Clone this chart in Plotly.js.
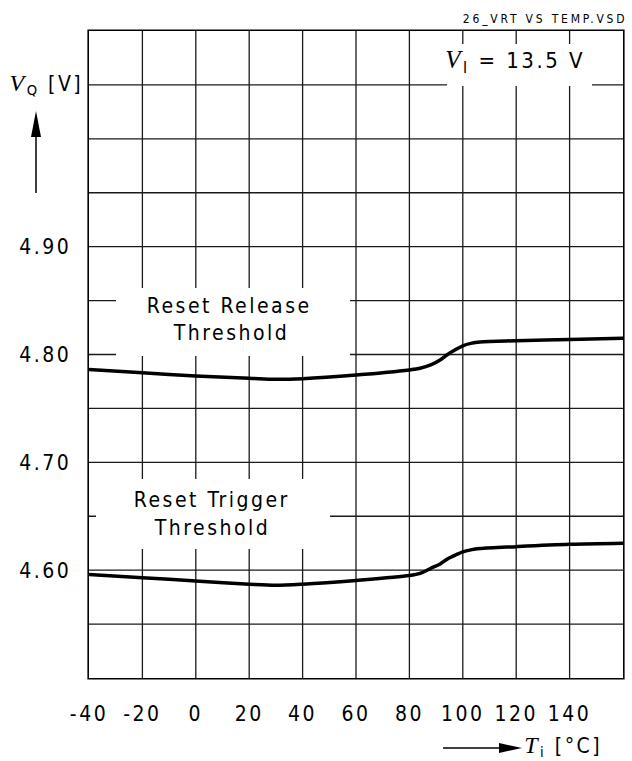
<!DOCTYPE html>
<html>
<head>
<meta charset="utf-8">
<script src="https://cdn.plot.ly/plotly-3.0.1.min.js"></script>
<style>
  html, body { margin: 0; padding: 0; background: #fff; }
  #chart { width: 632px; height: 761px; }
  #chart .crisp { shape-rendering: auto; }
  #chart .xtick text, #chart .ytick text { letter-spacing: 2.5px; }
  #chart .annotation-text { letter-spacing: 2.5px; }
  #chart .annotation[data-index="5"] .annotation-text { letter-spacing: 2.8px; }
</style>
</head>
<body>
<div id="chart"></div>
<script>
// ---- data ----
const tempRelease = [-40, -20, 0, 20, 30, 40, 60, 80, 84, 88, 91.5, 94, 97.5, 100, 103, 106.5, 120, 140, 160];
const vRelease    = [4.786, 4.783, 4.780, 4.778, 4.777, 4.7776, 4.781, 4.7857, 4.7872, 4.7903, 4.7949, 4.7995, 4.8048, 4.8081, 4.8103, 4.8116, 4.8128, 4.814, 4.815];
const tempTrigger = [-40, -20, 0, 20, 30, 40, 60, 80, 84, 88, 91.5, 94, 97.5, 100, 103, 106.5, 120, 140, 160];
const vTrigger    = [4.596, 4.593, 4.590, 4.587, 4.586, 4.587, 4.5905, 4.595, 4.597, 4.6017, 4.6058, 4.610, 4.6143, 4.617, 4.6188, 4.620, 4.6218, 4.624, 4.625];

const xTickVals = [-40, -20, 0, 20, 40, 60, 80, 100, 120, 140];
const xTickText = ['-40', '-20', '0', '20', '40', '60', '80', '100', '120', '140'];
const yTickVals = [4.60, 4.70, 4.80, 4.90];
const yTickText = ['4.60', '4.70', '4.80', '4.90'];
const yMinorGrid = [4.55, 4.65, 4.75, 4.85, 4.95, 5.00, 5.05];

const labelRelease = ['Reset Release', 'Threshold'];
const labelTrigger = ['Reset Trigger', 'Threshold'];
const fileName = '26_VRT VS TEMP.VSD';

// ---- layout geometry (pixels) ----
const W = 632, H = 761, L = 89, R = 623, T = 31, B = 678;
const px = x => (x - L) / (R - L);
const py = y => (B - y) / (B - T);

const SANS = 'DejaVu Sans Condensed, Liberation Sans Narrow, Arial Narrow, Liberation Sans, sans-serif';
const SERIF = 'Liberation Serif, Times New Roman, serif';

const lineStyle = { color: '#000', width: 3.5, shape: 'spline', smoothing: 0.9 };

const traces = [
  { x: tempRelease, y: vRelease, type: 'scatter', mode: 'lines', line: lineStyle, hoverinfo: 'skip' },
  { x: tempTrigger, y: vTrigger, type: 'scatter', mode: 'lines', line: lineStyle, hoverinfo: 'skip' }
];

function whiteBox(x0, y0, x1, y1) {
  return { type: 'rect', xref: 'paper', yref: 'paper', x0: px(x0), x1: px(x1), y0: py(y1), y1: py(y0),
           fillcolor: '#fff', line: { width: 0 }, layer: 'above' };
}
function txt(text, cx, cy, size, extra) {
  return Object.assign({ text: text, xref: 'paper', yref: 'paper', x: px(cx), y: py(cy),
    xanchor: 'center', yanchor: 'middle', showarrow: false,
    font: { family: SANS, size: size, color: '#000' } }, extra || {});
}

const shapes = [
  whiteBox(447, 44, 592, 86),
  whiteBox(116, 288, 350, 356),
  whiteBox(96, 479, 330, 549),
  // y-axis arrow
  { type: 'line', xref: 'paper', yref: 'paper', x0: px(36), x1: px(36), y0: py(193), y1: py(134), line: { color: '#000', width: 1.5 } },
  { type: 'path', xref: 'paper', yref: 'paper', path: `M ${px(36)} ${py(111)} L ${px(31)} ${py(137)} L ${px(41)} ${py(137)} Z`, fillcolor: '#000', line: { width: 0 } },
  // x-axis arrow
  { type: 'line', xref: 'paper', yref: 'paper', x0: px(443), x1: px(502), y0: py(748), y1: py(748), line: { color: '#000', width: 1.5 } },
  { type: 'path', xref: 'paper', yref: 'paper', path: `M ${px(522)} ${py(748)} L ${px(499)} ${py(743)} L ${px(499)} ${py(753)} Z`, fillcolor: '#000', line: { width: 0 } }
];

const annotations = [
  txt(labelRelease[0], 229, 306, 21),
  txt(labelRelease[1], 231, 333, 21),
  txt(labelTrigger[0], 212, 500, 21),
  txt(labelTrigger[1], 212, 528, 21),
  txt(`<span style="font-family:${SERIF};font-style:italic;font-size:25px">V</span><sub>I</sub> = 13.5 V`, 515, 62, 22),
  txt(fileName, 545, 19, 12),
  txt(`<span style="font-family:${SERIF};font-style:italic;font-size:24px">V</span><sub>Q</sub> [V]`, 46, 84, 21),
  txt(`<span style="font-family:${SERIF};font-style:italic;font-size:24px">T</span><sub>i</sub> [°C]`, 563, 746, 21)
];

const gridCol = '#1a1a1a';
const layout = {
  width: W, height: H,
  margin: { l: L, r: W - R, t: T, b: H - B, pad: 0 },
  paper_bgcolor: '#fff', plot_bgcolor: '#fff',
  showlegend: false,
  xaxis: {
    range: [-40, 160], tickmode: 'array', tickvals: xTickVals, ticktext: xTickText,
    showgrid: true, gridcolor: gridCol, gridwidth: 1.3, zeroline: false,
    showline: true, linecolor: '#000', linewidth: 1.6, mirror: true,
    ticks: '', ticklabelstandoff: 16,
    tickfont: { family: SANS, size: 21, color: '#000' }, fixedrange: true
  },
  yaxis: {
    range: [4.50, 5.10], tickmode: 'array', tickvals: yTickVals, ticktext: yTickText,
    showgrid: true, gridcolor: gridCol, gridwidth: 1.3, zeroline: false,
    showline: true, linecolor: '#000', linewidth: 1.6, mirror: true,
    ticks: '', ticklabelstandoff: 12,
    minor: { tickmode: 'array', tickvals: yMinorGrid, showgrid: true, gridcolor: gridCol, gridwidth: 1.3, ticks: '' },
    tickfont: { family: SANS, size: 21, color: '#000' }, fixedrange: true
  },
  shapes: shapes,
  annotations: annotations
};

Plotly.newPlot('chart', traces, layout, { staticPlot: true, displayModeBar: false });
</script>
</body>
</html>
